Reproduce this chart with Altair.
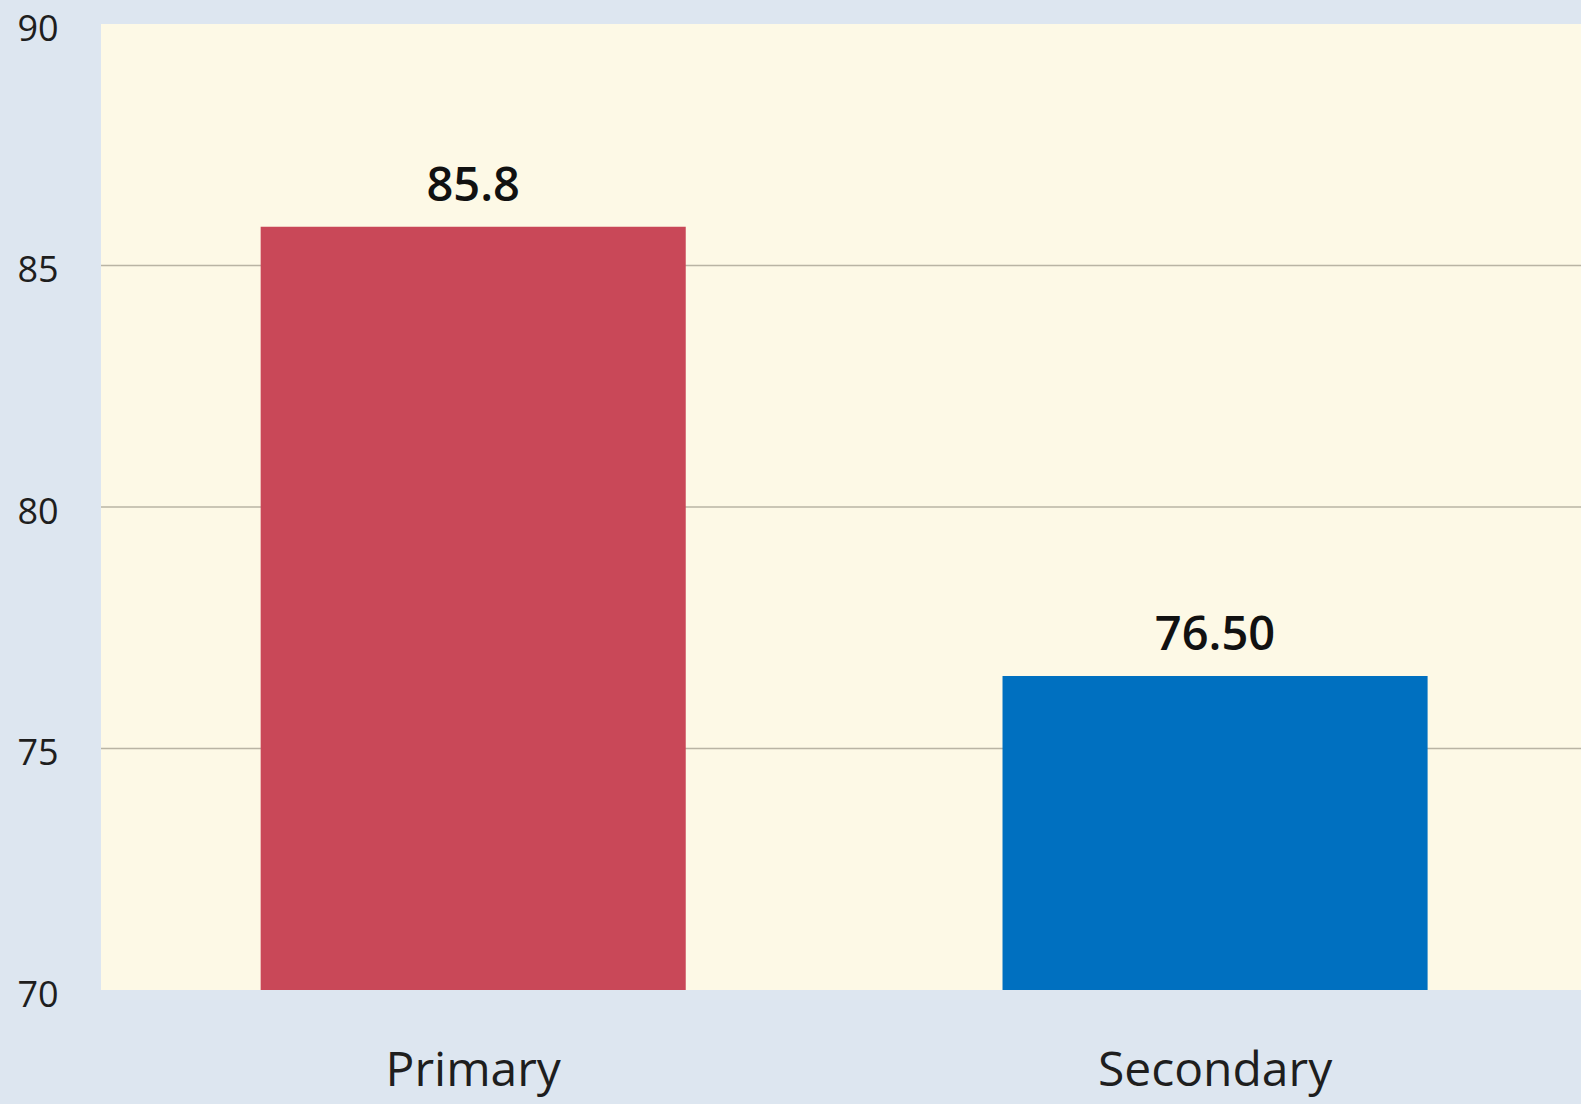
import altair as alt
import pandas as pd

# Enrolment rates by school level
levels = ["Primary", "Secondary"]
rates = [85.8, 76.50]
rate_labels = ["85.8", "76.50"]
bar_colors = ["#c94858", "#0070c0"]

y_ticks = [70, 75, 80, 85, 90]
grid_values = [75, 80, 85]

df = pd.DataFrame({"level": levels, "rate": rates, "label": rate_labels, "color": bar_colors})
grid_df = pd.DataFrame({"v": grid_values})

FONT = "Open Sans"

x_enc = alt.X(
    "level:N",
    sort=levels,
    scale=alt.Scale(paddingInner=0.427, paddingOuter=0.211, align=0.51),
    axis=alt.Axis(
        title=None,
        labelAngle=0,
        labelFontSize=48,
        labelFont=FONT,
        labelColor="#1e1e1e",
        labelPadding=57,
        labelBaseline="top",
        labelLimit=0,
        ticks=False,
        domain=False,
    ),
)

y_scale = alt.Scale(domain=[70, 90], nice=False, zero=False)

grid = alt.Chart(grid_df).mark_rule(color="#b9b4a4", strokeWidth=1.5).encode(
    y=alt.Y("v:Q", scale=y_scale)
)

bars = alt.Chart(df).mark_bar(clip=True).encode(
    x=x_enc,
    y=alt.Y(
        "rate:Q",
        scale=y_scale,
        axis=alt.Axis(
            title=None,
            values=y_ticks,
            grid=False,
            ticks=False,
            domain=False,
            labelFontSize=36,
            labelFont=FONT,
            labelColor="#1e1e1e",
            labelAlign="left",
            labelPadding=84,
            labelBaseline="middle",
            labelOffset=5,
            labelFlush=False,
        ),
    ),
    y2=alt.value(966),
    color=alt.Color("color:N", scale=None, legend=None),
)

labels = alt.Chart(df).mark_text(
    font=FONT, fontSize=47, fontWeight=600, color="#111111", baseline="bottom", dy=-16
).encode(
    x=alt.X("level:N", sort=levels),
    y=alt.Y("rate:Q", scale=y_scale),
    text="label:N",
)

chart = (
    alt.layer(grid, bars, labels)
    .properties(
        width=1480,
        height=966,
        autosize=alt.AutoSizeParams(type="none"),
        padding={"left": 101, "top": 24, "right": 0, "bottom": 114},
        background="#dde6f0",
    )
    .configure_view(fill="#fdf9e6", stroke=None)
)

chart.save("out.html", embed_options={"renderer": "svg", "actions": False})
